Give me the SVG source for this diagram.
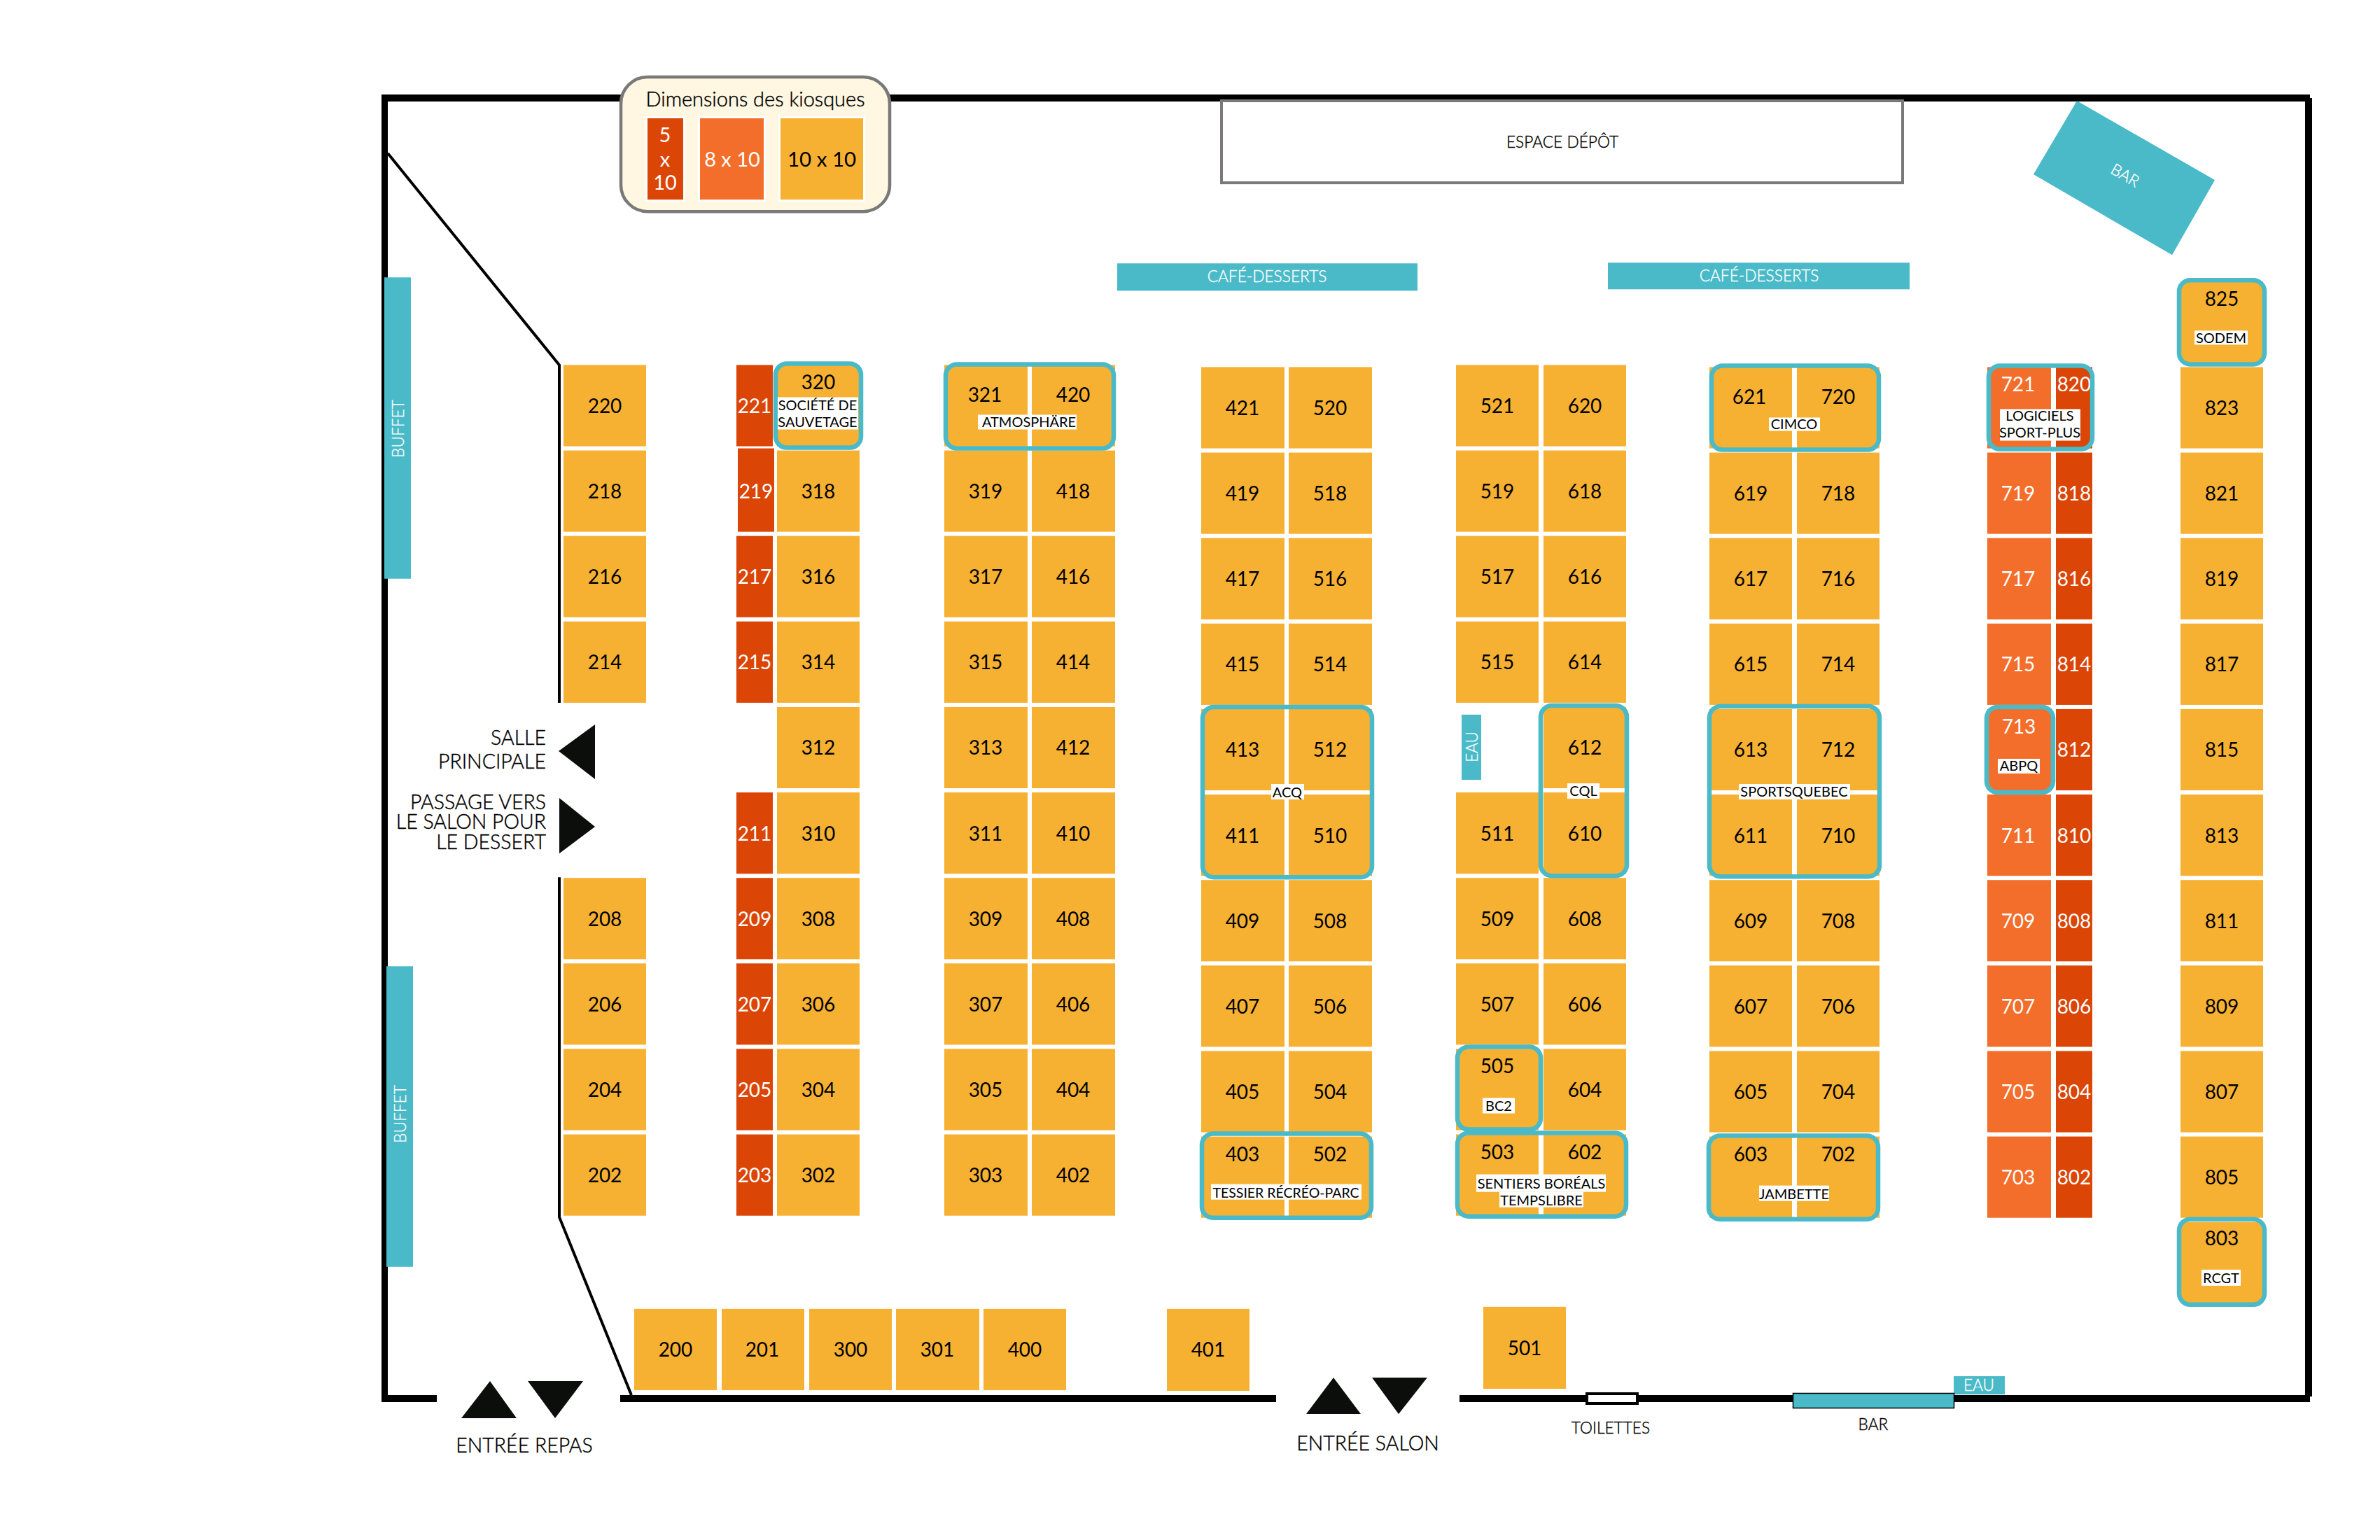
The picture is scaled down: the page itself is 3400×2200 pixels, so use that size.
<svg xmlns="http://www.w3.org/2000/svg" width="3400" height="2200" viewBox="0 0 3400 2200">
<style>
text{font-family:"Lato","Noto Sans","Liberation Sans",sans-serif;text-anchor:middle}
.o{fill:#f6b132}.m{fill:#f36d2b}.r{fill:#db4506}
.n{font-size:28px;fill:#000}.w{font-size:28px;fill:#fff}
.n,.w{transform:translateY(0.5px)}
.t{fill:#4abac8}.tl{font-size:22.7px;fill:#fff;font-weight:300;stroke:#fff;stroke-width:.35px}
.x{fill:none;stroke:#4abac8;stroke-width:6.5}
.lb{fill:#fff}.l{font-size:20px;fill:#000}
.a{fill:#0c0e0c}.k{fill:#000}
.c{font-size:28.5px;fill:#000;font-weight:300;stroke:#000;stroke-width:.45px}.c21{font-size:22.7px;fill:#000;font-weight:300;stroke:#000;stroke-width:.4px}
.e{text-anchor:end}
.s{stroke:#fff;stroke-width:6;paint-order:stroke}
.h{font-size:29px;fill:#000;font-weight:300;stroke:#000;stroke-width:.45px}
.lw{font-size:29px;fill:#fff}.ln{font-size:29.500px;fill:#000}
</style>
<rect width="3400" height="2200" fill="#fff"/>
<g id="plan" transform="translate(0 -0.15) scale(1 1.00107)">
<g id="connectors">
<rect class="k" x="545" y="135" width="2755" height="10"/>
<rect class="k" x="545" y="135" width="9" height="1866"/>
<rect class="k" x="3293" y="140" width="10" height="1853"/>
<rect class="k" x="545" y="1991" width="79" height="10"/>
<rect class="k" x="886" y="1991" width="937" height="10"/>
<rect class="k" x="2085" y="1991" width="1215" height="10"/>
<path d="M554 219L799 521V1003" fill="none" stroke="#000" stroke-width="4"/>
<path d="M799 1252V1737L902 1991" fill="none" stroke="#000" stroke-width="4"/>
</g>
<g id="legende">
<rect x="887" y="110" width="384" height="192" rx="38" fill="#fff7e1" stroke="#7a7878" stroke-width="4.500"/>
<text class="h" x="1079" y="152">Dimensions des kiosques</text>
<rect class="r s" x="925" y="169" width="51" height="116"/>
<text class="lw" x="950" y="203">5</text><text class="lw" x="950" y="238">x</text><text class="lw" x="950" y="271">10</text>
<rect class="m s" x="1000" y="169" width="91" height="116"/>
<text class="lw" x="1046" y="238">8 x 10</text>
<rect class="o s" x="1115" y="169" width="118" height="116"/>
<text class="ln" x="1174" y="238">10 x 10</text>
</g>
<g id="espace-depot"><rect x="1745" y="144" width="973" height="117" fill="#fff" stroke="#7a7878" stroke-width="4"/><text class="c21" x="2232" y="211">ESPACE DÉPÔT</text></g>
<g id="cafe1"><rect class="t" x="1596" y="376" width="429" height="39"/><text class="tl" x="1810" y="403">CAFÉ-DESSERTS</text></g>
<g id="cafe2"><rect class="t" x="2297" y="375" width="431" height="38"/><text class="tl" x="2513" y="402">CAFÉ-DESSERTS</text></g>
<g id="buffet1"><rect class="t" x="549" y="396" width="38" height="430"/><text class="tl" transform="translate(577 612) rotate(-90)">BUFFET</text></g>
<g id="buffet2"><rect class="t" x="552" y="1379" width="38" height="429"/><text class="tl" transform="translate(580 1590) rotate(-90)">BUFFET</text></g>
<g id="bar1"><polygon class="t" points="2967,144 3164,257 3103,364 2905,249"/><text class="tl" transform="translate(3032 257) rotate(30)">BAR</text></g>
<g id="eau1"><rect class="t" x="2088" y="1020" width="28" height="93"/><text class="tl" transform="translate(2111 1066) rotate(-90)">EAU</text></g>
<g id="eau2"><rect class="t" x="2791" y="1964" width="73" height="26"/><text class="tl" x="2827" y="1985">EAU</text></g>
<g id="bar2"><rect class="t" x="2561.500" y="1988.500" width="230" height="21" stroke="#000" stroke-width="1.500"/><text class="c21" x="2676" y="2041">BAR</text></g>
<g id="toilettes"><rect x="2267" y="1989" width="72" height="14" fill="#fff" stroke="#000" stroke-width="4"/><text class="c21" x="2301" y="2046">TOILETTES</text></g>
<g id="salle"><polygon class="a" points="798,1072 850,1034 850,1112"/><text class="c e" x="780" y="1063">SALLE</text><text class="c e" x="780" y="1097">PRINCIPALE</text></g>
<g id="passage"><polygon class="a" points="799,1139 850,1180 799,1218"/><text class="c e" x="780" y="1155">PASSAGE VERS</text><text class="c e" x="780" y="1183">LE SALON POUR</text><text class="c e" x="780" y="1212">LE DESSERT</text></g>
<g id="entree-repas"><polygon class="a" points="700,1971 659,2024 738,2024"/><polygon class="a" points="754,1971 833,1971 793,2024"/><text class="c" x="749" y="2073">ENTRÉE REPAS</text></g>
<g id="entree-salon"><polygon class="a" points="1905,1966 1866,2018 1944,2018"/><polygon class="a" points="1960,1966 2039,1966 1998,2018"/><text class="c" x="1954" y="2070">ENTRÉE SALON</text></g>

<g id="k220"><rect class="o" x="805" y="521" width="118" height="116"/><text class="n" x="864" y="589">220</text></g>
<g id="k218"><rect class="o" x="805" y="643" width="118" height="116"/><text class="n" x="864" y="711">218</text></g>
<g id="k216"><rect class="o" x="805" y="765" width="118" height="116"/><text class="n" x="864" y="833">216</text></g>
<g id="k214"><rect class="o" x="805" y="887" width="118" height="116"/><text class="n" x="864" y="955">214</text></g>
<g id="k208"><rect class="o" x="805" y="1253" width="118" height="116"/><text class="n" x="864" y="1321">208</text></g>
<g id="k206"><rect class="o" x="805" y="1375" width="118" height="116"/><text class="n" x="864" y="1443">206</text></g>
<g id="k204"><rect class="o" x="805" y="1497" width="118" height="116"/><text class="n" x="864" y="1565">204</text></g>
<g id="k202"><rect class="o" x="805" y="1619" width="118" height="116"/><text class="n" x="864" y="1687">202</text></g>

<g id="k221"><rect class="r" x="1052" y="521" width="52" height="116"/><text class="w" x="1078" y="589">221</text></g>
<g id="k219"><rect class="r" x="1054" y="640" width="52" height="119"/><text class="w" x="1080" y="711">219</text></g>
<g id="k217"><rect class="r" x="1052" y="765" width="52" height="116"/><text class="w" x="1078" y="833">217</text></g>
<g id="k215"><rect class="r" x="1052" y="887" width="52" height="116"/><text class="w" x="1078" y="955">215</text></g>
<g id="k211"><rect class="r" x="1052" y="1131" width="52" height="116"/><text class="w" x="1078" y="1199">211</text></g>
<g id="k209"><rect class="r" x="1052" y="1253" width="52" height="116"/><text class="w" x="1078" y="1321">209</text></g>
<g id="k207"><rect class="r" x="1052" y="1375" width="52" height="116"/><text class="w" x="1078" y="1443">207</text></g>
<g id="k205"><rect class="r" x="1052" y="1497" width="52" height="116"/><text class="w" x="1078" y="1565">205</text></g>
<g id="k203"><rect class="r" x="1052" y="1619" width="52" height="116"/><text class="w" x="1078" y="1687">203</text></g>

<g id="k320"><rect class="o" x="1110" y="521" width="118" height="116"/><text class="n" x="1169" y="555">320</text></g>
<g id="k318"><rect class="o" x="1110" y="643" width="118" height="116"/><text class="n" x="1169" y="711">318</text></g>
<g id="k316"><rect class="o" x="1110" y="765" width="118" height="116"/><text class="n" x="1169" y="833">316</text></g>
<g id="k314"><rect class="o" x="1110" y="887" width="118" height="116"/><text class="n" x="1169" y="955">314</text></g>
<g id="k312"><rect class="o" x="1110" y="1009" width="118" height="116"/><text class="n" x="1169" y="1077">312</text></g>
<g id="k310"><rect class="o" x="1110" y="1131" width="118" height="116"/><text class="n" x="1169" y="1199">310</text></g>
<g id="k308"><rect class="o" x="1110" y="1253" width="118" height="116"/><text class="n" x="1169" y="1321">308</text></g>
<g id="k306"><rect class="o" x="1110" y="1375" width="118" height="116"/><text class="n" x="1169" y="1443">306</text></g>
<g id="k304"><rect class="o" x="1110" y="1497" width="118" height="116"/><text class="n" x="1169" y="1565">304</text></g>
<g id="k302"><rect class="o" x="1110" y="1619" width="118" height="116"/><text class="n" x="1169" y="1687">302</text></g>

<g id="k321"><rect class="o" x="1349" y="521" width="119" height="116"/><text class="n" x="1407" y="573">321</text></g>
<g id="k319"><rect class="o" x="1349" y="643" width="119" height="116"/><text class="n" x="1408" y="711">319</text></g>
<g id="k317"><rect class="o" x="1349" y="765" width="119" height="116"/><text class="n" x="1408" y="833">317</text></g>
<g id="k315"><rect class="o" x="1349" y="887" width="119" height="116"/><text class="n" x="1408" y="955">315</text></g>
<g id="k313"><rect class="o" x="1349" y="1009" width="119" height="116"/><text class="n" x="1408" y="1077">313</text></g>
<g id="k311"><rect class="o" x="1349" y="1131" width="119" height="116"/><text class="n" x="1408" y="1199">311</text></g>
<g id="k309"><rect class="o" x="1349" y="1253" width="119" height="116"/><text class="n" x="1408" y="1321">309</text></g>
<g id="k307"><rect class="o" x="1349" y="1375" width="119" height="116"/><text class="n" x="1408" y="1443">307</text></g>
<g id="k305"><rect class="o" x="1349" y="1497" width="119" height="116"/><text class="n" x="1408" y="1565">305</text></g>
<g id="k303"><rect class="o" x="1349" y="1619" width="119" height="116"/><text class="n" x="1408" y="1687">303</text></g>

<g id="k420"><rect class="o" x="1474" y="521" width="119" height="116"/><text class="n" x="1533" y="573">420</text></g>
<g id="k418"><rect class="o" x="1474" y="643" width="119" height="116"/><text class="n" x="1533" y="711">418</text></g>
<g id="k416"><rect class="o" x="1474" y="765" width="119" height="116"/><text class="n" x="1533" y="833">416</text></g>
<g id="k414"><rect class="o" x="1474" y="887" width="119" height="116"/><text class="n" x="1533" y="955">414</text></g>
<g id="k412"><rect class="o" x="1474" y="1009" width="119" height="116"/><text class="n" x="1533" y="1077">412</text></g>
<g id="k410"><rect class="o" x="1474" y="1131" width="119" height="116"/><text class="n" x="1533" y="1199">410</text></g>
<g id="k408"><rect class="o" x="1474" y="1253" width="119" height="116"/><text class="n" x="1533" y="1321">408</text></g>
<g id="k406"><rect class="o" x="1474" y="1375" width="119" height="116"/><text class="n" x="1533" y="1443">406</text></g>
<g id="k404"><rect class="o" x="1474" y="1497" width="119" height="116"/><text class="n" x="1533" y="1565">404</text></g>
<g id="k402"><rect class="o" x="1474" y="1619" width="119" height="116"/><text class="n" x="1533" y="1687">402</text></g>

<g id="k421"><rect class="o" x="1716" y="524" width="119" height="116"/><text class="n" x="1775" y="592">421</text></g>
<g id="k419"><rect class="o" x="1716" y="646" width="119" height="116"/><text class="n" x="1775" y="714">419</text></g>
<g id="k417"><rect class="o" x="1716" y="768" width="119" height="116"/><text class="n" x="1775" y="836">417</text></g>
<g id="k415"><rect class="o" x="1716" y="890" width="119" height="116"/><text class="n" x="1775" y="958">415</text></g>
<g id="k413"><rect class="o" x="1716" y="1012" width="119" height="116"/><text class="n" x="1775" y="1080">413</text></g>
<g id="k411"><rect class="o" x="1716" y="1134" width="119" height="116"/><text class="n" x="1775" y="1202">411</text></g>
<g id="k409"><rect class="o" x="1716" y="1256" width="119" height="116"/><text class="n" x="1775" y="1324">409</text></g>
<g id="k407"><rect class="o" x="1716" y="1378" width="119" height="116"/><text class="n" x="1775" y="1446">407</text></g>
<g id="k405"><rect class="o" x="1716" y="1500" width="119" height="116"/><text class="n" x="1775" y="1568">405</text></g>
<g id="k403"><rect class="o" x="1716" y="1622" width="119" height="116"/><text class="n" x="1775" y="1657">403</text></g>

<g id="k520"><rect class="o" x="1841" y="524" width="119" height="116"/><text class="n" x="1900" y="592">520</text></g>
<g id="k518"><rect class="o" x="1841" y="646" width="119" height="116"/><text class="n" x="1900" y="714">518</text></g>
<g id="k516"><rect class="o" x="1841" y="768" width="119" height="116"/><text class="n" x="1900" y="836">516</text></g>
<g id="k514"><rect class="o" x="1841" y="890" width="119" height="116"/><text class="n" x="1900" y="958">514</text></g>
<g id="k512"><rect class="o" x="1841" y="1012" width="119" height="116"/><text class="n" x="1900" y="1080">512</text></g>
<g id="k510"><rect class="o" x="1841" y="1134" width="119" height="116"/><text class="n" x="1900" y="1202">510</text></g>
<g id="k508"><rect class="o" x="1841" y="1256" width="119" height="116"/><text class="n" x="1900" y="1324">508</text></g>
<g id="k506"><rect class="o" x="1841" y="1378" width="119" height="116"/><text class="n" x="1900" y="1446">506</text></g>
<g id="k504"><rect class="o" x="1841" y="1500" width="119" height="116"/><text class="n" x="1900" y="1568">504</text></g>
<g id="k502"><rect class="o" x="1841" y="1622" width="119" height="116"/><text class="n" x="1900" y="1657">502</text></g>

<g id="k521"><rect class="o" x="2080" y="521" width="118" height="116"/><text class="n" x="2139" y="589">521</text></g>
<g id="k519"><rect class="o" x="2080" y="643" width="118" height="116"/><text class="n" x="2139" y="711">519</text></g>
<g id="k517"><rect class="o" x="2080" y="765" width="118" height="116"/><text class="n" x="2139" y="833">517</text></g>
<g id="k515"><rect class="o" x="2080" y="887" width="118" height="116"/><text class="n" x="2139" y="955">515</text></g>
<g id="k511"><rect class="o" x="2080" y="1131" width="118" height="116"/><text class="n" x="2139" y="1199">511</text></g>
<g id="k509"><rect class="o" x="2080" y="1253" width="118" height="116"/><text class="n" x="2139" y="1321">509</text></g>
<g id="k507"><rect class="o" x="2080" y="1375" width="118" height="116"/><text class="n" x="2139" y="1443">507</text></g>
<g id="k505"><rect class="o" x="2080" y="1497" width="118" height="116"/><text class="n" x="2139" y="1531">505</text></g>
<g id="k503"><rect class="o" x="2080" y="1619" width="118" height="116"/><text class="n" x="2139" y="1654">503</text></g>

<g id="k620"><rect class="o" x="2205" y="521" width="118" height="116"/><text class="n" x="2264" y="589">620</text></g>
<g id="k618"><rect class="o" x="2205" y="643" width="118" height="116"/><text class="n" x="2264" y="711">618</text></g>
<g id="k616"><rect class="o" x="2205" y="765" width="118" height="116"/><text class="n" x="2264" y="833">616</text></g>
<g id="k614"><rect class="o" x="2205" y="887" width="118" height="116"/><text class="n" x="2264" y="955">614</text></g>
<g id="k612"><rect class="o" x="2205" y="1009" width="118" height="116"/><text class="n" x="2264" y="1077">612</text></g>
<g id="k610"><rect class="o" x="2205" y="1131" width="118" height="116"/><text class="n" x="2264" y="1199">610</text></g>
<g id="k608"><rect class="o" x="2205" y="1253" width="118" height="116"/><text class="n" x="2264" y="1321">608</text></g>
<g id="k606"><rect class="o" x="2205" y="1375" width="118" height="116"/><text class="n" x="2264" y="1443">606</text></g>
<g id="k604"><rect class="o" x="2205" y="1497" width="118" height="116"/><text class="n" x="2264" y="1565">604</text></g>
<g id="k602"><rect class="o" x="2205" y="1619" width="118" height="116"/><text class="n" x="2264" y="1654">602</text></g>

<g id="k621"><rect class="o" x="2442" y="524" width="118" height="116"/><text class="n" x="2499" y="576">621</text></g>
<g id="k619"><rect class="o" x="2442" y="646" width="118" height="116"/><text class="n" x="2501" y="714">619</text></g>
<g id="k617"><rect class="o" x="2442" y="768" width="118" height="116"/><text class="n" x="2501" y="836">617</text></g>
<g id="k615"><rect class="o" x="2442" y="890" width="118" height="116"/><text class="n" x="2501" y="958">615</text></g>
<g id="k613"><rect class="o" x="2442" y="1012" width="118" height="116"/><text class="n" x="2501" y="1080">613</text></g>
<g id="k611"><rect class="o" x="2442" y="1134" width="118" height="116"/><text class="n" x="2501" y="1202">611</text></g>
<g id="k609"><rect class="o" x="2442" y="1256" width="118" height="116"/><text class="n" x="2501" y="1324">609</text></g>
<g id="k607"><rect class="o" x="2442" y="1378" width="118" height="116"/><text class="n" x="2501" y="1446">607</text></g>
<g id="k605"><rect class="o" x="2442" y="1500" width="118" height="116"/><text class="n" x="2501" y="1568">605</text></g>
<g id="k603"><rect class="o" x="2442" y="1622" width="118" height="116"/><text class="n" x="2501" y="1657">603</text></g>

<g id="k720"><rect class="o" x="2567" y="524" width="118" height="116"/><text class="n" x="2626" y="576">720</text></g>
<g id="k718"><rect class="o" x="2567" y="646" width="118" height="116"/><text class="n" x="2626" y="714">718</text></g>
<g id="k716"><rect class="o" x="2567" y="768" width="118" height="116"/><text class="n" x="2626" y="836">716</text></g>
<g id="k714"><rect class="o" x="2567" y="890" width="118" height="116"/><text class="n" x="2626" y="958">714</text></g>
<g id="k712"><rect class="o" x="2567" y="1012" width="118" height="116"/><text class="n" x="2626" y="1080">712</text></g>
<g id="k710"><rect class="o" x="2567" y="1134" width="118" height="116"/><text class="n" x="2626" y="1202">710</text></g>
<g id="k708"><rect class="o" x="2567" y="1256" width="118" height="116"/><text class="n" x="2626" y="1324">708</text></g>
<g id="k706"><rect class="o" x="2567" y="1378" width="118" height="116"/><text class="n" x="2626" y="1446">706</text></g>
<g id="k704"><rect class="o" x="2567" y="1500" width="118" height="116"/><text class="n" x="2626" y="1568">704</text></g>
<g id="k702"><rect class="o" x="2567" y="1622" width="118" height="116"/><text class="n" x="2626" y="1657">702</text></g>

<g id="k721"><rect class="m" x="2839" y="524" width="91" height="116"/><text class="w" x="2883" y="558">721</text></g>
<g id="k719"><rect class="m" x="2839" y="646" width="91" height="116"/><text class="w" x="2883" y="714">719</text></g>
<g id="k717"><rect class="m" x="2839" y="768" width="91" height="116"/><text class="w" x="2883" y="836">717</text></g>
<g id="k715"><rect class="m" x="2839" y="890" width="91" height="116"/><text class="w" x="2883" y="958">715</text></g>
<g id="k713"><rect class="m" x="2839" y="1012" width="91" height="116"/><text class="w" x="2884" y="1047">713</text></g>
<g id="k711"><rect class="m" x="2839" y="1134" width="91" height="116"/><text class="w" x="2883" y="1202">711</text></g>
<g id="k709"><rect class="m" x="2839" y="1256" width="91" height="116"/><text class="w" x="2883" y="1324">709</text></g>
<g id="k707"><rect class="m" x="2839" y="1378" width="91" height="116"/><text class="w" x="2883" y="1446">707</text></g>
<g id="k705"><rect class="m" x="2839" y="1500" width="91" height="116"/><text class="w" x="2883" y="1568">705</text></g>
<g id="k703"><rect class="m" x="2839" y="1622" width="91" height="116"/><text class="w" x="2883" y="1690">703</text></g>

<g id="k820"><rect class="r" x="2937" y="524" width="52" height="116"/><text class="w" x="2963" y="558">820</text></g>
<g id="k818"><rect class="r" x="2937" y="646" width="52" height="116"/><text class="w" x="2963" y="714">818</text></g>
<g id="k816"><rect class="r" x="2937" y="768" width="52" height="116"/><text class="w" x="2963" y="836">816</text></g>
<g id="k814"><rect class="r" x="2937" y="890" width="52" height="116"/><text class="w" x="2963" y="958">814</text></g>
<g id="k812"><rect class="r" x="2937" y="1012" width="52" height="116"/><text class="w" x="2963" y="1080">812</text></g>
<g id="k810"><rect class="r" x="2937" y="1134" width="52" height="116"/><text class="w" x="2963" y="1202">810</text></g>
<g id="k808"><rect class="r" x="2937" y="1256" width="52" height="116"/><text class="w" x="2963" y="1324">808</text></g>
<g id="k806"><rect class="r" x="2937" y="1378" width="52" height="116"/><text class="w" x="2963" y="1446">806</text></g>
<g id="k804"><rect class="r" x="2937" y="1500" width="52" height="116"/><text class="w" x="2963" y="1568">804</text></g>
<g id="k802"><rect class="r" x="2937" y="1622" width="52" height="116"/><text class="w" x="2963" y="1690">802</text></g>

<g id="k825"><rect class="o" x="3115" y="402" width="118" height="116"/><text class="n" x="3174" y="436">825</text></g>
<g id="k823"><rect class="o" x="3115" y="524" width="118" height="116"/><text class="n" x="3174" y="592">823</text></g>
<g id="k821"><rect class="o" x="3115" y="646" width="118" height="116"/><text class="n" x="3174" y="714">821</text></g>
<g id="k819"><rect class="o" x="3115" y="768" width="118" height="116"/><text class="n" x="3174" y="836">819</text></g>
<g id="k817"><rect class="o" x="3115" y="890" width="118" height="116"/><text class="n" x="3174" y="958">817</text></g>
<g id="k815"><rect class="o" x="3115" y="1012" width="118" height="116"/><text class="n" x="3174" y="1080">815</text></g>
<g id="k813"><rect class="o" x="3115" y="1134" width="118" height="116"/><text class="n" x="3174" y="1202">813</text></g>
<g id="k811"><rect class="o" x="3115" y="1256" width="118" height="116"/><text class="n" x="3174" y="1324">811</text></g>
<g id="k809"><rect class="o" x="3115" y="1378" width="118" height="116"/><text class="n" x="3174" y="1446">809</text></g>
<g id="k807"><rect class="o" x="3115" y="1500" width="118" height="116"/><text class="n" x="3174" y="1568">807</text></g>
<g id="k805"><rect class="o" x="3115" y="1622" width="118" height="116"/><text class="n" x="3174" y="1690">805</text></g>
<g id="k803"><rect class="o" x="3115" y="1744" width="118" height="116"/><text class="n" x="3174" y="1777">803</text></g>

<g id="k200"><rect class="o" x="906" y="1868" width="118" height="116"/><text class="n" x="965" y="1936">200</text></g>
<g id="k201"><rect class="o" x="1031" y="1868" width="118" height="116"/><text class="n" x="1089" y="1936">201</text></g>
<g id="k300"><rect class="o" x="1156" y="1868" width="118" height="116"/><text class="n" x="1215" y="1936">300</text></g>
<g id="k301"><rect class="o" x="1280" y="1868" width="119" height="116"/><text class="n" x="1339" y="1936">301</text></g>
<g id="k400"><rect class="o" x="1405" y="1868" width="118" height="116"/><text class="n" x="1464" y="1936">400</text></g>
<g id="k401"><rect class="o" x="1667" y="1868" width="118" height="117"/><text class="n" x="1726" y="1936">401</text></g>
<g id="k501"><rect class="o" x="2119" y="1865" width="118" height="117"/><text class="n" x="2178" y="1934">501</text></g>

<g id="x-sauvetage"><rect class="x" x="1108" y="519" width="122" height="120" rx="16"/><rect class="lb" x="1111" y="567" width="115" height="46"/><text class="l" x="1168" y="586">SOCIÉTÉ DE</text><text class="l" x="1168" y="610">SAUVETAGE</text></g>
<g id="x-atmosphere"><rect class="x" x="1351" y="520" width="240" height="120" rx="16"/><rect class="lb" x="1397" y="592" width="141" height="21"/><text class="l" x="1470" y="610">ATMOSPHÄRE</text></g>
<g id="x-cimco"><rect class="x" x="2445" y="522" width="239" height="120" rx="16"/><rect class="lb" x="2527" y="596" width="73" height="19"/><text class="l" x="2563" y="613">CIMCO</text></g>
<g id="x-logiciels"><rect class="x" x="2841" y="522" width="148" height="119" rx="16"/><rect class="lb" x="2857" y="584" width="115" height="45"/><text class="l" x="2914" y="601">LOGICIELS</text><text class="l" x="2914" y="624">SPORT-PLUS</text></g>
<g id="x-sodem"><rect class="x" x="3113" y="400" width="122" height="120" rx="16"/><rect class="lb" x="3135" y="472" width="76" height="20"/><text class="l" x="3173" y="490">SODEM</text></g>
<g id="x-acq"><rect class="x" x="1718" y="1009" width="242" height="243" rx="16"/><rect class="lb" x="1816" y="1119" width="47" height="22"/><text class="l" x="1839" y="1138">ACQ</text></g>
<g id="x-cql"><rect class="x" x="2201" y="1007" width="123" height="243" rx="16"/><rect class="lb" x="2239" y="1118" width="46" height="22"/><text class="l" x="2262" y="1136">CQL</text></g>
<g id="x-sportsquebec"><rect class="x" x="2442" y="1008" width="243" height="243" rx="16"/><rect class="lb" x="2484" y="1119" width="159" height="22"/><text class="l" x="2563" y="1137">SPORTSQUEBEC</text></g>
<g id="x-abpq"><rect class="x" x="2838" y="1009" width="95" height="122" rx="16"/><rect class="lb" x="2854" y="1083" width="60" height="21"/><text class="l" x="2884" y="1100">ABPQ</text></g>
<g id="x-bc2"><rect class="x" x="2082" y="1494" width="119" height="118" rx="16"/><rect class="lb" x="2118" y="1567" width="46" height="22"/><text class="l" x="2141" y="1585">BC2</text></g>
<g id="x-tessier"><rect class="x" x="1717" y="1618" width="242" height="120" rx="16"/><rect class="lb" x="1730" y="1690" width="215" height="22"/><text class="l" style="font-size:19.500px" x="1837" y="1709">TESSIER RÉCRÉO-PARC</text></g>
<g id="x-sentiers"><rect class="x" x="2082" y="1617" width="241" height="119" rx="16"/><rect class="lb" x="2109" y="1676" width="185" height="25"/><rect class="lb" x="2142" y="1701" width="120" height="22"/><text class="l" x="2202" y="1696">SENTIERS BORÉALS</text><text class="l" x="2202" y="1720">TEMPSLIBRE</text></g>
<g id="x-jambette"><rect class="x" x="2441" y="1621" width="242" height="119" rx="16"/><rect class="lb" x="2513" y="1692" width="100" height="22"/><text class="l" x="2563" y="1711">JAMBETTE</text></g>
<g id="x-rcgt"><rect class="x" x="3113" y="1740" width="122" height="122" rx="16"/><rect class="lb" x="3145" y="1812" width="56" height="23"/><text class="l" x="3173" y="1831">RCGT</text></g>
</g>
</svg>
